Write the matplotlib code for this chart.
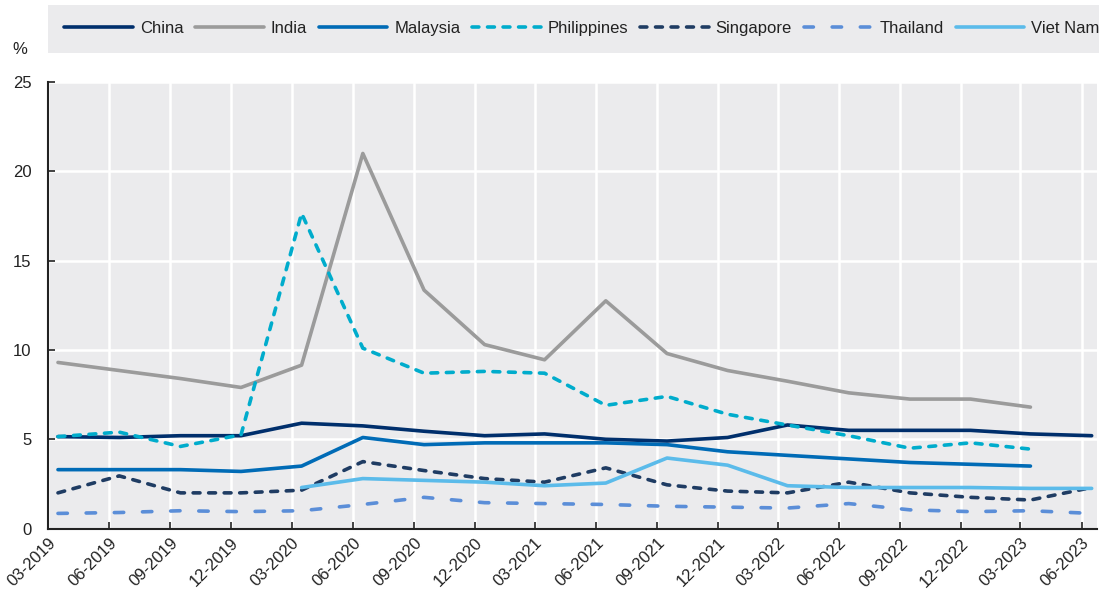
import matplotlib
matplotlib.use("Agg")
import matplotlib.pyplot as plt
import matplotlib.transforms as mtransforms
import pandas as pd
import numpy as np

plt.rcParams['font.family'] = ['Liberation Sans', 'DejaVu Sans']

quarters = ['03-2019', '06-2019', '09-2019', '12-2019', '03-2020', '06-2020', '09-2020', '12-2020',
            '03-2021', '06-2021', '09-2021', '12-2021', '03-2022', '06-2022', '09-2022', '12-2022',
            '03-2023', '06-2023']

china = [5.15, 5.1, 5.2, 5.2, 5.9, 5.75, 5.45, 5.2, 5.3, 5.0, 4.9, 5.1, 5.8, 5.5, 5.5, 5.5, 5.3, 5.2]
india = [9.3, 8.85, 8.4, 7.9, 9.15, 21.0, 13.35, 10.3, 9.45, 12.75, 9.8, 8.85, 8.25, 7.6, 7.25, 7.25, 6.8, None]
malaysia = [3.3, 3.3, 3.3, 3.2, 3.5, 5.1, 4.7, 4.8, 4.8, 4.8, 4.7, 4.3, 4.1, 3.9, 3.7, 3.6, 3.5, None]
philippines = [5.15, 5.4, 4.6, 5.25, 17.65, 10.1, 8.7, 8.8, 8.7, 6.9, 7.4, 6.4, 5.8, 5.2, 4.5, 4.8, 4.45, None]
singapore = [2.0, 2.95, 2.0, 2.0, 2.15, 3.75, 3.25, 2.8, 2.6, 3.4, 2.45, 2.1, 2.0, 2.6, 2.0, 1.75, 1.6, 2.3]
thailand = [0.85, 0.9, 1.0, 0.95, 1.0, 1.35, 1.75, 1.45, 1.4, 1.35, 1.25, 1.2, 1.15, 1.4, 1.05, 0.95, 1.0, 0.85]
vietnam = [None, None, None, None, 2.3, 2.8, 2.7, 2.6, 2.4, 2.55, 3.95, 3.55, 2.4, 2.3, 2.3, 2.3, 2.25, 2.25]

tick_dates = pd.to_datetime(quarters, format='%m-%Y')
point_dates = tick_dates + pd.Timedelta(days=15)

series = [
    ('China', china, '#002F6C', '-'),
    ('India', india, '#9B9B9B', '-'),
    ('Malaysia', malaysia, '#006BB6', '-'),
    ('Philippines', philippines, '#00ACCC', (0, (1.9, 2.4))),
    ('Singapore', singapore, '#1F3C63', (0, (1.9, 2.4))),
    ('Thailand', thailand, '#5B8ED8', (0, (2.6, 5.2))),
    ('Viet Nam', vietnam, '#5BBBEA', '-'),
]

FS = 12
fig = plt.figure(figsize=(10.99, 5.89), dpi=100)
ax = fig.add_axes([48/1099, 1-528.6/589, (1097-48)/1099, (528.6-82)/589])
ax.set_facecolor('#EBEBED')

handles = []
for name, vals, col, ls in series:
    y = np.array([np.nan if v is None else v for v in vals], dtype=float)
    ln, = ax.plot(point_dates, y, color=col, lw=2.6, ls=ls, label=name,
                  solid_capstyle='round', dash_capstyle='round')
    handles.append(ln)

ax.set_ylim(0, 25)
ax.set_yticks([0, 5, 10, 15, 20, 25])
ax.set_xlim(pd.Timestamp('2019-03-01'), pd.Timestamp('2023-06-24'))
ax.set_xticks(tick_dates)
ax.set_xticklabels(quarters, rotation=45, ha='right', va='top', rotation_mode='anchor')
offset = mtransforms.ScaledTranslation(10/100, -1/100, fig.dpi_scale_trans)
for lab in ax.get_xticklabels():
    lab.set_transform(lab.get_transform() + offset)
ax.grid(True, color='white', lw=1.8)
ax.set_axisbelow(True)
for s in ['top', 'right']:
    ax.spines[s].set_visible(False)
for s in ['left', 'bottom']:
    ax.spines[s].set_color('#222222')
    ax.spines[s].set_linewidth(1.5)
ax.tick_params(axis='both', direction='in', length=5, width=1.2, color='#222222',
               labelsize=FS, labelcolor='#222222')
ax.tick_params(axis='x', pad=5)
ax.tick_params(axis='y', pad=12)

fig.text(20/1099, 1-50/589, '%', fontsize=FS, color='#222222', ha='center', va='center')

leg = fig.legend(handles=handles, loc='upper left', bbox_to_anchor=(48/1099, 1-5/589),
                 ncol=7, fontsize=FS, frameon=True, fancybox=False,
                 handlelength=4.1, handletextpad=0.42, columnspacing=0.72,
                 borderpad=0.98, borderaxespad=0)
leg.get_frame().set_facecolor('#EBEBED')
leg.get_frame().set_edgecolor('none')
leg.get_frame().set_alpha(1)
for t in leg.get_texts():
    t.set_color('#222222')

fig.savefig('out.png', dpi=100)
